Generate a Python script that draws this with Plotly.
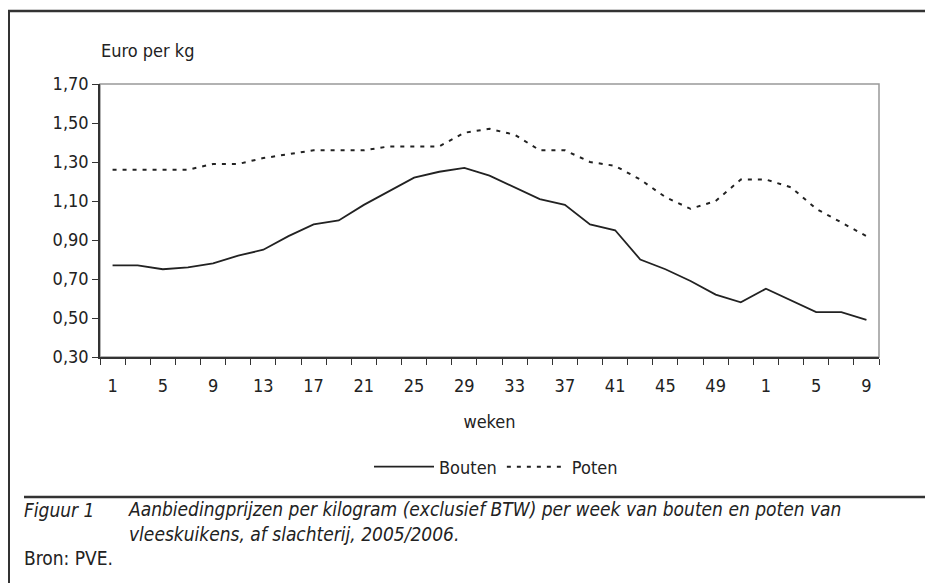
import plotly.graph_objects as go

weeks = ["1","3","5","7","9","11","13","15","17","19","21","23","25","27","29","31","33","35","37","39","41","43","45","47","49","51","1","3","5","7","9"]
bouten = [0.77,0.77,0.75,0.76,0.78,0.82,0.85,0.92,0.98,1.00,1.08,1.15,1.22,1.25,1.27,1.23,1.17,1.11,1.08,0.98,0.95,0.80,0.75,0.69,0.62,0.58,0.65,0.59,0.53,0.53,0.49]
poten = [1.26,1.26,1.26,1.26,1.29,1.29,1.32,1.34,1.36,1.36,1.36,1.38,1.38,1.38,1.45,1.47,1.44,1.36,1.36,1.30,1.28,1.21,1.12,1.06,1.10,1.21,1.21,1.17,1.06,0.99,0.92]
y_ticks = [0.30,0.50,0.70,0.90,1.10,1.30,1.50,1.70]

FONT = "DejaVu Sans Condensed, Liberation Sans Narrow, sans-serif"
idx = list(range(len(weeks)))
label_idx = idx[::2]

# figure is placed at (8,8) in the page; page coords -> figure coords
W, H = 925, 575
OX, OY = 8, 8
PL, PR, PT, PB = 100 - OX, 879 - OX, 84 - OY, 357 - OY
pw, ph = PR - PL, PB - PT

def px(x):
    return (x - OX - PL) / pw

def py(y):
    return (PB - (y - OY)) / ph

fig = go.Figure()
fig.add_trace(go.Scatter(x=idx, y=bouten, mode="lines", name="Bouten",
                         line=dict(color="#222222", width=1.8)))
fig.add_trace(go.Scatter(x=idx, y=poten, mode="lines", name="Poten",
                         line=dict(color="#222222", width=2, dash="4px,6px")))

fig.update_layout(
    width=W, height=H,
    margin=dict(l=PL, r=W - PR, t=PT, b=H - PB),
    paper_bgcolor="white", plot_bgcolor="white",
    font=dict(family=FONT, size=18, color="#222222"),
    separators=",.",
    showlegend=True,
    legend=dict(orientation="h", x=px(496), xanchor="center", y=py(467), yanchor="middle",
                font=dict(size=18), itemwidth=60, traceorder="normal"),
    xaxis=dict(range=[-0.5, len(weeks) - 0.5], tickmode="array", tickvals=label_idx,
               ticktext=[weeks[i] for i in label_idx], ticks="", showgrid=False,
               zeroline=False, showline=True, linecolor="#333333", linewidth=1.5,
               tickfont=dict(size=18), ticklabelstandoff=12,
               minor=dict(tick0=-0.5, dtick=1, ticks="outside", ticklen=6,
                          tickcolor="#333333", showgrid=False),
               title=dict(text="weken", font=dict(size=18), standoff=20)),
    yaxis=dict(range=[0.30, 1.70], tickmode="array", tickvals=y_ticks,
               tickformat=".2f", ticks="outside", ticklen=6, tickcolor="#333333",
               showgrid=False, zeroline=False, showline=True, linecolor="#333333",
               linewidth=1.5, tickfont=dict(size=18)),
)

# plot frame (top/right gray)
fig.add_shape(type="rect", xref="paper", yref="paper", x0=0, x1=1, y0=0, y1=1,
              line=dict(color="#999999", width=1.5), layer="below")
# outer page frame
fig.add_shape(type="line", xref="paper", yref="paper", x0=px(8), x1=px(940),
              y0=py(11), y1=py(11), line=dict(color="#333333", width=2.5))
fig.add_shape(type="line", xref="paper", yref="paper", x0=px(9), x1=px(9),
              y0=py(11), y1=py(590), line=dict(color="#333333", width=2))
fig.add_shape(type="line", xref="paper", yref="paper", x0=px(24), x1=px(925),
              y0=py(497), y1=py(497), line=dict(color="#333333", width=2.5))

fig.add_annotation(xref="paper", yref="paper", x=px(99), y=py(50), text="Euro per kg",
                   showarrow=False, xanchor="left", yanchor="middle", font=dict(size=18))
fig.add_annotation(xref="paper", yref="paper", x=px(22), y=py(510),
                   text="<i>Figuur 1</i>", showarrow=False, xanchor="left", yanchor="middle",
                   font=dict(size=19))
fig.add_annotation(xref="paper", yref="paper", x=px(126), y=py(521),
                   text="<i>Aanbiedingprijzen per kilogram (exclusief BTW) per week van bouten en poten van<br>vleeskuikens, af slachterij, 2005/2006.</i>",
                   showarrow=False, xanchor="left", yanchor="middle", align="left",
                   font=dict(size=19))
fig.add_annotation(xref="paper", yref="paper", x=px(22), y=py(558),
                   text="Bron: PVE.", showarrow=False, xanchor="left", yanchor="middle",
                   font=dict(size=19))

fig.write_html("out.html")
